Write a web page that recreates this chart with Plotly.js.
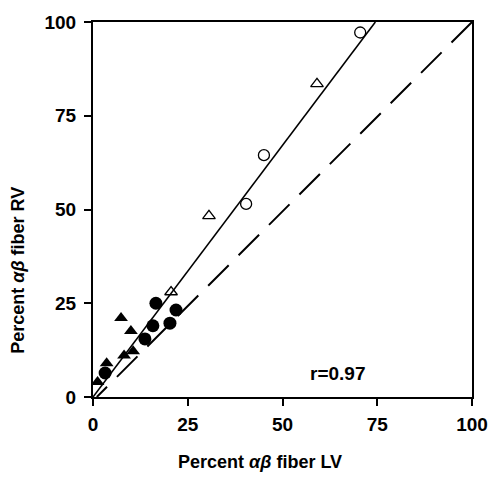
<!DOCTYPE html>
<html><head><meta charset="utf-8">
<script src="https://cdn.plot.ly/plotly-3.0.1.min.js"></script>
<style>html,body{margin:0;padding:0;background:#fff}</style>
</head><body>
<div id="chart" style="width:493px;height:492px"></div>
<script>
// Open circles
const openCircleX = [70.5, 45.1, 40.4];
const openCircleY = [97.2, 64.5, 51.5];
// Open triangles
const openTriX = [59.1, 30.6, 20.6];
const openTriY = [83.5, 48.3, 28.0];
// Filled circles
const fillCircleX = [16.6, 21.9, 15.8, 20.3, 13.7, 3.2];
const fillCircleY = [25.0, 23.2, 19.0, 19.7, 15.5, 6.4];
// Filled triangles
const fillTriX = [7.4, 10.0, 8.2, 10.6, 3.6, 1.2];
const fillTriY = [21.1, 17.6, 11.1, 12.2, 9.0, 4.0];
// Regression line and identity line endpoints
const regX = [0, 74.5];
const regY = [0, 100];
const idX = [100, 1];
const idY = [100, 0];
const tickVals = [0, 25, 50, 75, 100];
const tickText = ['0', '25', '50', '75', '100'];

const font = {family: 'Liberation Sans, Arial, sans-serif', color: '#000'};
const traces = [
  {x: regX, y: regY, mode: 'lines', line: {color: '#000', width: 1.6}, hoverinfo: 'skip'},
  {x: idX, y: idY, mode: 'lines', line: {color: '#000', width: 2, dash: '29px,14px'}, hoverinfo: 'skip'},
  {x: openCircleX, y: openCircleY, mode: 'markers', marker: {symbol: 'circle-open', size: 11, color: '#000', line: {width: 1.3}}},
  {x: openTriX, y: openTriY, mode: 'markers', marker: {symbol: 'triangle-up-open', size: 11, color: '#000', line: {width: 1.3}}},
  {x: fillCircleX, y: fillCircleY, mode: 'markers', marker: {symbol: 'circle', size: 13, color: '#000'}},
  {x: fillTriX, y: fillTriY, mode: 'markers', marker: {symbol: 'triangle-up', size: 12, color: '#000'}}
];
const axisBase = {
  range: [0, 100], tickvals: tickVals, ticktext: tickText,
  showgrid: false, zeroline: false, showline: true, mirror: true,
  linecolor: '#000', linewidth: 2, ticks: 'outside', ticklen: 7, tickwidth: 2, tickcolor: '#000',
  tickfont: Object.assign({size: 19, weight: 'bold'}, font), fixedrange: true
};
const layout = {
  width: 493, height: 492,
  margin: {l: 93, r: 21, t: 22, b: 95},
  paper_bgcolor: '#fff', plot_bgcolor: '#fff',
  showlegend: false,
  xaxis: Object.assign({}, axisBase, {ticklabelstandoff: 2}),
  yaxis: Object.assign({}, axisBase, {ticklabelstandoff: 4}),
  annotations: [
    {text: 'r=0.97', x: 64.4, y: 6.4, xref: 'x', yref: 'y', xanchor: 'center', yanchor: 'middle', showarrow: false, font: Object.assign({size: 19, weight: 'bold'}, font)},
    {text: 'Percent <i>αβ</i> fiber LV', x: 0.44, y: -0.173, xref: 'paper', yref: 'paper', xanchor: 'center', yanchor: 'middle', showarrow: false, font: Object.assign({size: 18, weight: 'bold'}, font)},
    {text: 'Percent <i>αβ</i> fiber RV', x: -0.198, y: 0.339, xref: 'paper', yref: 'paper', xanchor: 'center', yanchor: 'middle', textangle: -90, showarrow: false, font: Object.assign({size: 18, weight: 'bold'}, font)}
  ]
};
Plotly.newPlot('chart', traces, layout, {displayModeBar: false, staticPlot: true});
</script>
</body></html>
